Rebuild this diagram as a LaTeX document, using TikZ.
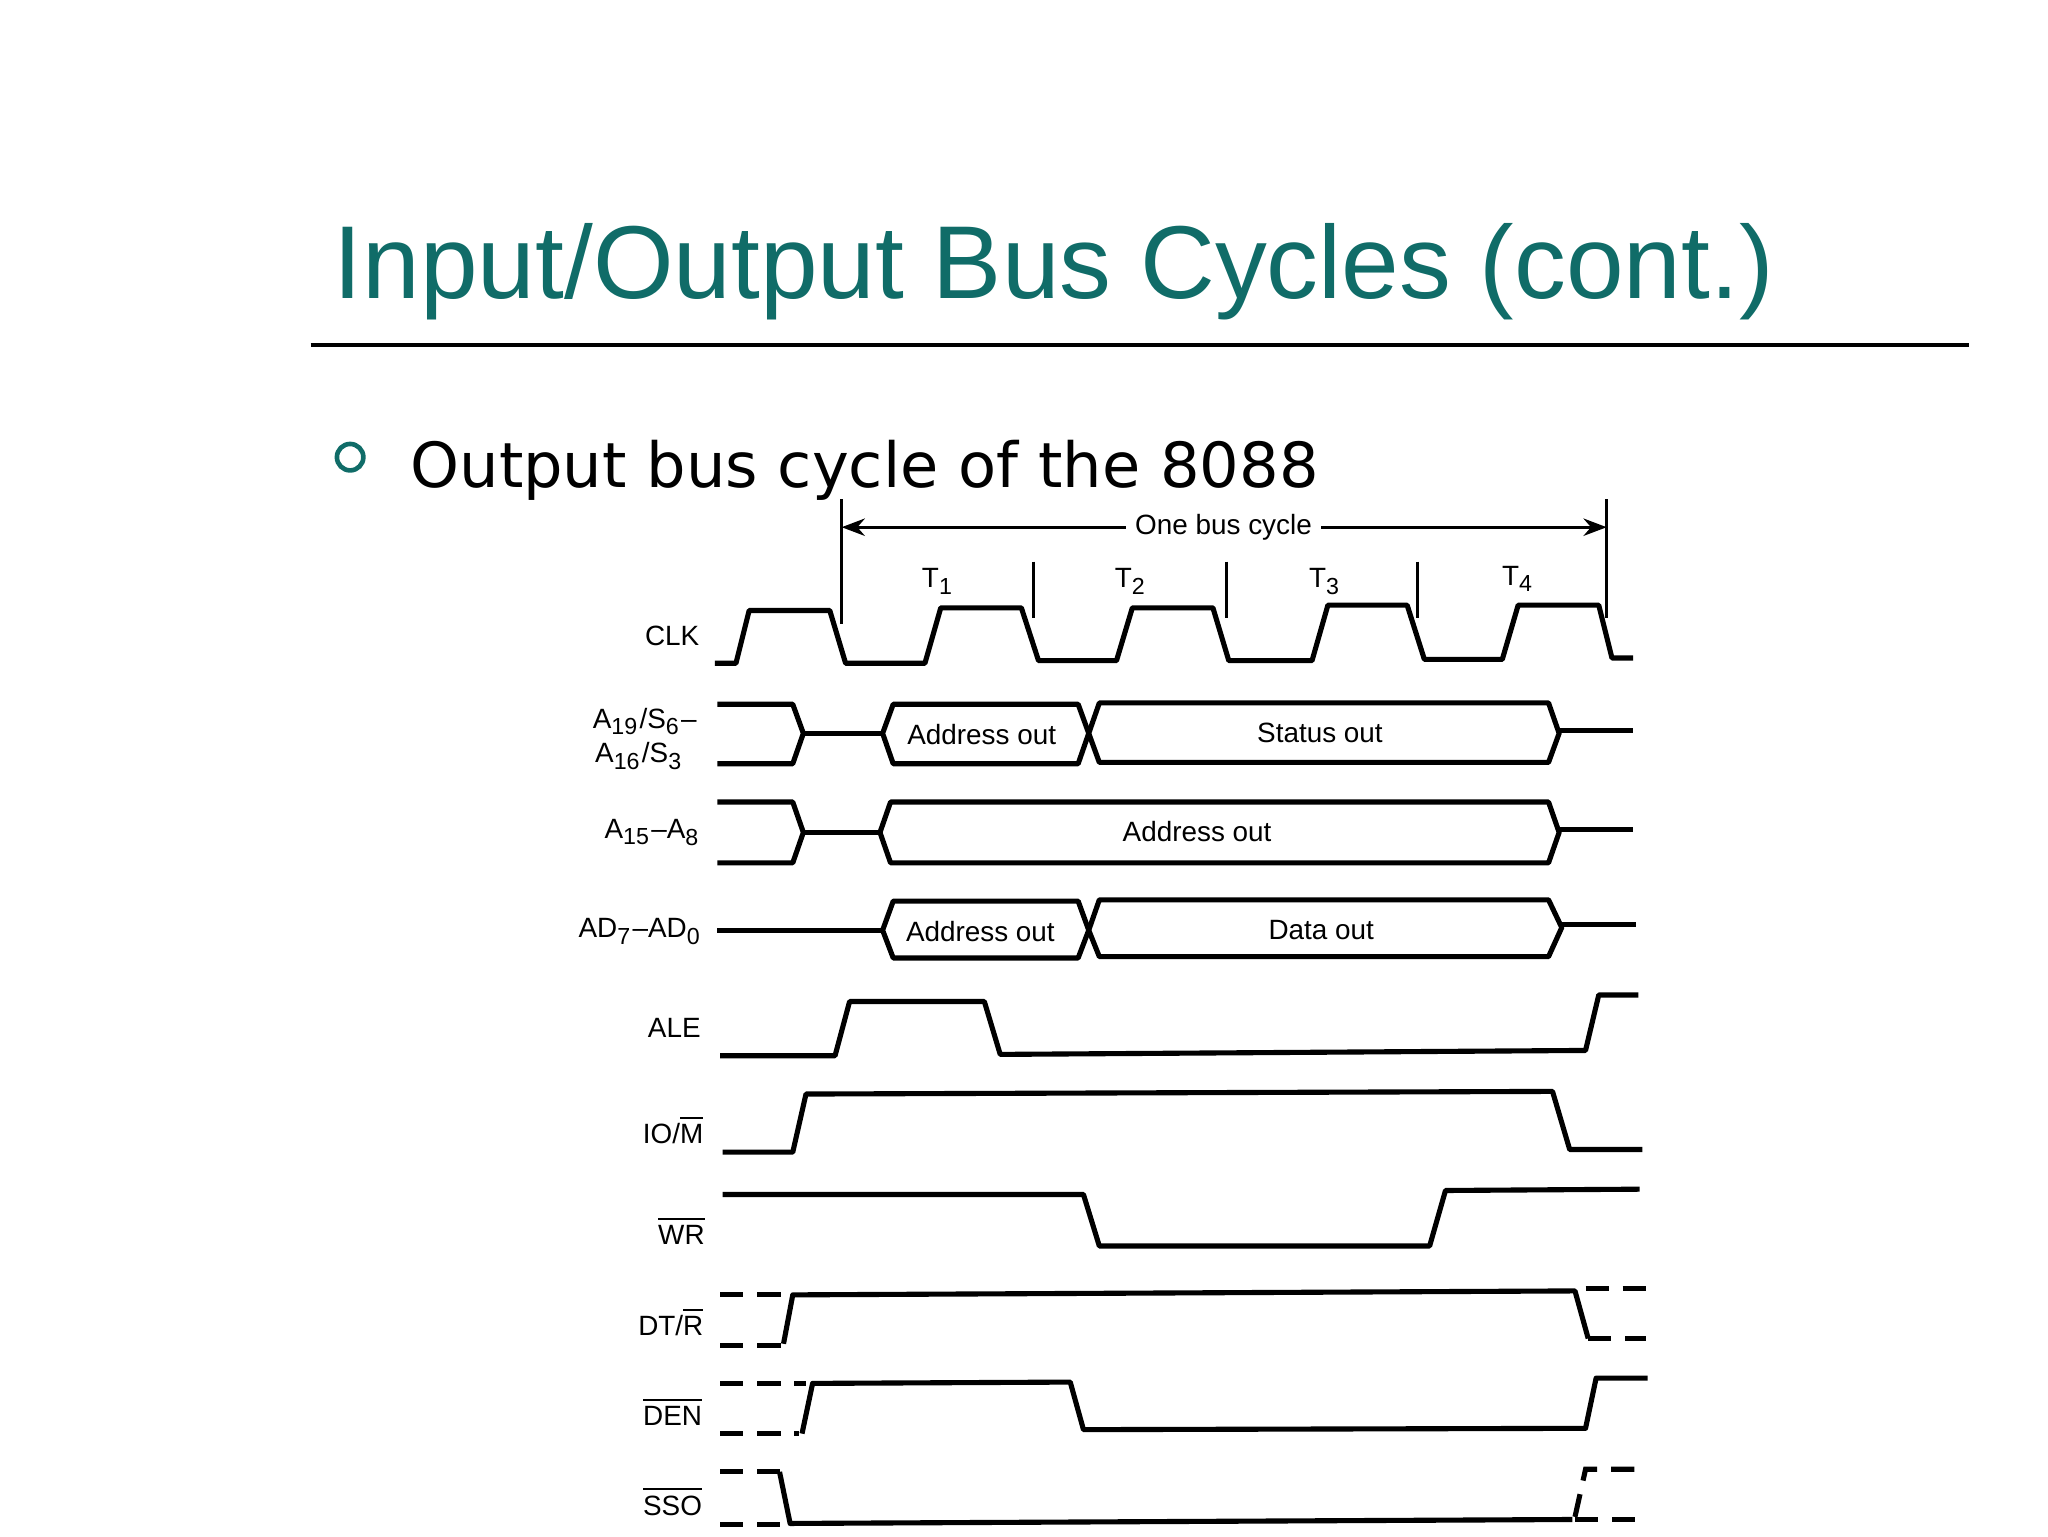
\documentclass[tikz,border=0pt]{standalone}
\usepackage{fontspec}
\setmainfont{DejaVu Sans}
\newfontfamily\lab{Liberation Sans}
\usetikzlibrary{arrows.meta}
\definecolor{teal1}{RGB}{16,108,104}
\newcommand{\ov}[1]{$\overline{\mbox{#1}}$}
\newcommand{\sbs}[1]{\textsubscript{#1}}
\begin{document}
\begin{tikzpicture}[x=0.01cm,y=-0.01cm,
  sig/.style={line width=1.1pt,line join=round},
  dsig/.style={line width=1.1pt,dash pattern=on 5pt off 3pt},
  thin1/.style={line width=0.6pt},
  lbl/.style={font=\lab\fontsize{6}{6}\selectfont,anchor=east,inner sep=0pt},
  btxt/.style={font=\lab\fontsize{6}{6}\selectfont,inner sep=0pt}]
\useasboundingbox (0,0) rectangle (1550,1162.5);
\node[anchor=base west,inner sep=0pt,text=teal1,font=\lab\fontsize{22.3}{22.3}\selectfont] (title) at (252,226) {Input/Output Bus Cycles (cont.)};
\draw[line width=0.8pt] (235,261) -- (1490,261);
\node[draw=teal1,circle,line width=1pt,minimum size=0.2cm,inner sep=0pt] (bul) at (265,346) {};
\node[anchor=base west,inner sep=0pt,font=\fontsize{13.4}{13.4}\selectfont] (sub) at (310,369) {Output bus cycle of the 8088};
% bus cycle
\draw[thin1] (637,378) -- (637,472);
\draw[thin1] (1216,378) -- (1216,468);
\coordinate (bl) at (637,399); \coordinate (br) at (1216,399);
\draw[thin1,{Stealth[length=5pt]}-{Stealth[length=5pt]}] (bl) -- (br);
\node[btxt,fill=white,inner sep=2pt] (obc) at (926,399) {One bus cycle};
\foreach \x in {782,928,1073} \draw[thin1] (\x,425) -- (\x,468);
\node[btxt] (t1) at (710,440) {T\sbs{1}};
\node[btxt] (t2) at (856,440) {T\sbs{2}};
\node[btxt] (t3) at (1003,440) {T\sbs{3}};
\node[btxt] (t4) at (1149,438) {T\sbs{4}};
% CLK
\draw[sig] (541,502)--(557,502)--(567,462)--(628,462)--(640,502)--(700,502)--(712,460)--(773,460)--(786,500)--(845,500)--(857,460)--(918,460)--(930,500)--(993,500)--(1005,458)--(1065,458)--(1078,499)--(1137,499)--(1149,458)--(1210,458)--(1220,498)--(1236,498);
\node[lbl] (lclk) at (530,481) {CLK};
% A19
\draw[sig] (543,533)--(600,533)--(608,555)--(600,578)--(543,578);
\draw[sig] (608,555)--(668,555);
\draw[sig] (668,555)--(676,533)--(816,533)--(824,555)--(816,578)--(676,578)--cycle;
\draw[sig] (824,555)--(832,532)--(1172,532)--(1180,555)--(1172,577)--(832,577)--cycle;
\draw[sig] (1180,553)--(1236,553);
\node[btxt] (b1) at (743,556) {Address out};
\node[btxt] (b2) at (999,555) {Status out};
\node[lbl] (la19) at (528,546) {A\sbs{19}/S\sbs{6}–};
\node[lbl] (la16) at (518,572) {A\sbs{16}/S\sbs{3}};
% A15
\draw[sig] (543,607)--(600,607)--(608,630)--(600,653)--(543,653);
\draw[sig] (608,630)--(666,630);
\draw[sig] (666,630)--(674,607)--(1172,607)--(1180,630)--(1172,653)--(674,653)--cycle;
\draw[sig] (1180,628)--(1236,628);
\node[btxt] (b3) at (906,629) {Address out};
\node[lbl] (la15) at (531,630) {A\sbs{15}–A\sbs{8}};
% AD
\draw[sig] (543,704)--(668,704);
\draw[sig] (668,704)--(676,682)--(816,682)--(824,704)--(816,725)--(676,725)--cycle;
\draw[sig] (824,704)--(832,681)--(1172,681)--(1182,702)--(1172,724)--(832,724)--cycle;
\draw[sig] (1182,700)--(1238,700);
\node[btxt] (b4) at (742,705) {Address out};
\node[btxt] (b5) at (1000,704) {Data out};
\node[lbl] (lad) at (532,705) {AD\sbs{7}–AD\sbs{0}};
% ALE
\draw[sig] (545,799)--(632,799)--(643,758)--(745,758)--(757,798)--(1200,795)--(1210,753)--(1240,753);
\node[lbl] (lale) at (531,778) {ALE};
% IO/M
\draw[sig] (547,872)--(600,872)--(610,828)--(1175,826)--(1188,870)--(1243,870);
\node[lbl] (lio) at (533,855) {IO/\ov{M}};
% WR
\draw[sig] (547,904)--(820,904)--(832,943)--(1082,943)--(1094,901)--(1241,900);
\node[lbl] (lwr) at (534,931) {\ov{WR}};
% DT/R
\draw[dsig] (545,980)--(592,980);
\draw[dsig] (545,1018)--(592,1018);
\draw[sig] (593,1017)--(600,980)--(1192,977)--(1202,1013);
\draw[dsig] (1200,975)--(1246,975);
\draw[dsig] (1202,1013)--(1246,1013);
\node[lbl] (ldt) at (533,1000) {DT/\ov{R}};
% DEN
\draw[dsig] (545,1047)--(610,1047);
\draw[dsig] (545,1085)--(605,1085);
\draw[sig] (607,1085)--(615,1047)--(810,1046)--(820,1082)--(1200,1081)--(1208,1043)--(1247,1043);
\node[lbl] (lden) at (532,1068) {\ov{DEN}};
% SSO
\draw[dsig] (545,1114)--(590,1114);
\draw[dsig] (545,1154)--(590,1154);
\draw[sig] (590,1114)--(598,1153)--(1190,1150);
\draw[dsig] (1192,1148)--(1200,1112)--(1246,1112);
\draw[dsig] (1192,1150)--(1246,1150);
\node[lbl] (lsso) at (532,1136) {\ov{SSO}};
\end{tikzpicture}
\end{document}
